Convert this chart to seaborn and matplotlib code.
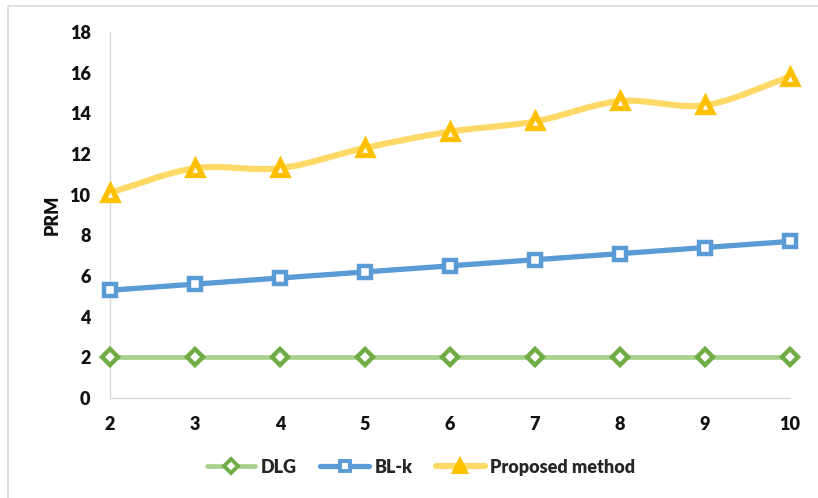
import numpy as np
import pandas as pd
import matplotlib
matplotlib.use("Agg")
import matplotlib.pyplot as plt
from matplotlib.lines import Line2D
import seaborn as sns

x_values = [2, 3, 4, 5, 6, 7, 8, 9, 10]
dlg = [2, 2, 2, 2, 2, 2, 2, 2, 2]
blk = [5.3, 5.6, 5.9, 6.2, 6.5, 6.8, 7.1, 7.4, 7.7]
proposed = [10.1, 11.3, 11.3, 12.3, 13.1, 13.6, 14.6, 14.4, 15.8]
series_names = ["DLG", "BL-k", "Proposed method"]
y_ticks = [0, 2, 4, 6, 8, 10, 12, 14, 16, 18]

sns.set_theme(style="white")
plt.rcParams["font.family"] = ["Lato", "DejaVu Sans"]

df = pd.DataFrame({"x": x_values, "DLG": dlg, "BL-k": blk, "Proposed method": proposed})

fig = plt.figure(figsize=(8.18, 4.98), dpi=100)
ax = fig.add_axes([110 / 818, 1 - 398 / 498, 680 / 818, 366 / 498])


def smooth_curve(xs, ys, n=20):
    """Catmull-Rom path through the points, like a smoothed spreadsheet line."""
    xs = np.asarray(xs, float)
    ys = np.asarray(ys, float)
    px = np.concatenate([[2 * xs[0] - xs[1]], xs, [2 * xs[-1] - xs[-2]]])
    py = np.concatenate([[2 * ys[0] - ys[1]], ys, [2 * ys[-1] - ys[-2]]])
    out_x, out_y = [], []
    t = np.linspace(0, 1, n, endpoint=False)
    for i in range(1, len(px) - 2):
        for arr, out in ((px, out_x), (py, out_y)):
            p0, p1, p2, p3 = arr[i - 1], arr[i], arr[i + 1], arr[i + 2]
            out.extend(0.5 * ((2 * p1) + (-p0 + p2) * t
                              + (2 * p0 - 5 * p1 + 4 * p2 - p3) * t ** 2
                              + (-p0 + 3 * p1 - 3 * p2 + p3) * t ** 3))
    out_x.append(xs[-1])
    out_y.append(ys[-1])
    return np.array(out_x), np.array(out_y)


styles = {
    "DLG": dict(line="#A9D18E", mark="#70AD47", marker="D", ms=8.5, mew=3.2, lw=3.4),
    "BL-k": dict(line="#5B9BD5", mark="#5B9BD5", marker="s", ms=9, mew=3.2, lw=3.8),
    "Proposed method": dict(line="#FFD966", mark="#FFC000", marker="^", ms=10, mew=3.8, lw=4.4),
}

for name in series_names:
    st = styles[name]
    if name == "Proposed method":
        sx, sy = smooth_curve(df["x"], df[name])
        ax.plot(sx, sy, color=st["line"], lw=st["lw"], solid_capstyle="round", zorder=2, clip_on=False)
    else:
        sns.lineplot(data=df, x="x", y=name, ax=ax, color=st["line"], lw=st["lw"], zorder=2, clip_on=False)
    ax.plot(df["x"], df[name], ls="none", marker=st["marker"], ms=st["ms"],
            mfc="white", mec=st["mark"], mew=st["mew"], zorder=3, clip_on=False)

ax.set_xlim(2, 10)
ax.set_ylim(0, 18)
ax.set_xticks(x_values)
ax.set_yticks(y_ticks)
ax.set_xticklabels([str(v) for v in x_values], fontsize=13, fontweight="heavy")
ax.set_yticklabels([str(v) for v in y_ticks], fontsize=13, fontweight="heavy")
ax.tick_params(axis="both", length=0, colors="#111111")
ax.tick_params(axis="x", pad=13)
ax.tick_params(axis="y", pad=14)
ax.set_xlabel("")
ax.set_ylabel("PRM", fontsize=13, fontweight="heavy", color="#111111", labelpad=6)

for side in ["top", "right"]:
    ax.spines[side].set_visible(False)
for side in ["left", "bottom"]:
    ax.spines[side].set_color("#D9D9D9")
    ax.spines[side].set_linewidth(1.0)

handles = []
for name in series_names:
    st = styles[name]
    handles.append(Line2D([], [], color=st["line"], lw=st["lw"], marker=st["marker"],
                          ms=st["ms"] * 0.8, mfc="white" if name != "Proposed method" else st["mark"],
                          mec=st["mark"], mew=2.8))
fig.legend(handles, series_names, loc="center", bbox_to_anchor=(421 / 818, 1 - 467 / 498),
           ncol=3, frameon=False, prop={"weight": "heavy", "size": 13},
           handlelength=2.7, columnspacing=1.3, handletextpad=0.3)

# light frame on the top and left edges
fig.add_artist(Line2D([8 / 818, 8 / 818], [0, 1 - 6 / 498], color="#D9D9D9", lw=1.2))
fig.add_artist(Line2D([8 / 818, 1], [1 - 6 / 498, 1 - 6 / 498], color="#D9D9D9", lw=1.2))

fig.savefig("out.png", dpi=100)
